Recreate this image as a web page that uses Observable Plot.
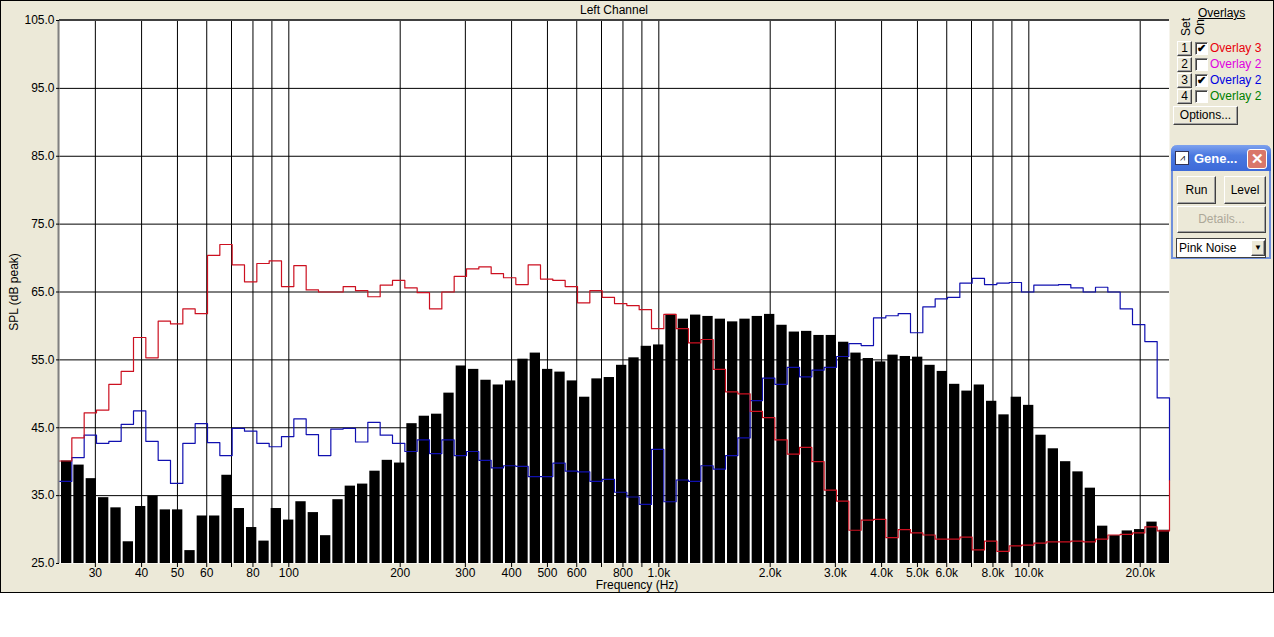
<!DOCTYPE html>
<html>
<head>
<meta charset="utf-8">
<script src="https://cdn.jsdelivr.net/npm/d3@7"></script>
<script src="https://cdn.jsdelivr.net/npm/@observablehq/plot@0.6"></script>
<style>
  body { margin: 0; background: #fff; font-family: "Liberation Sans", Arial, sans-serif; }
  #win { position: absolute; left: 0; top: 0; width: 1274px; height: 593px; background: #ECE9D8; overflow: hidden; }
  #chart { position: absolute; left: 0; top: 0; }
  .abs { position: absolute; white-space: nowrap; }
  .txt { font-size: 12px; color: #000; line-height: 14px; }
  .btn3d { position: absolute; box-sizing: border-box; background: #ECE9D8;
           border-top: 1px solid #fff; border-left: 1px solid #fff;
           border-right: 1px solid #404040; border-bottom: 1px solid #404040;
           box-shadow: inset -1px -1px 0 #a0a0a0; font-size: 12px; text-align: center; }
  .chk { position: absolute; box-sizing: border-box; width: 13px; height: 13px; background: #fff;
         border-top: 1px solid #808080; border-left: 1px solid #808080;
         border-right: 1px solid #fff; border-bottom: 1px solid #fff;
         box-shadow: inset 1px 1px 0 #404040; font-size: 11px; line-height: 11px; text-align: center; font-weight: bold; }
</style>
</head>
<body>
<div id="win">
  <div id="chart"></div>
  <div class="abs txt" style="left:59px;width:1110px;top:3px;text-align:center;">Left Channel</div>
  <div class="abs txt" style="left:0;width:1274px;top:578px;text-align:center;">Frequency (Hz)</div>
  <div id="panel"></div>
  <div class="abs" style="left:0;top:0;width:1272px;height:591px;border:1px solid #000;"></div>
</div>
<script>
// ---- analyser bands: 30 bands per decade from 24 Hz to 24 kHz ----
const fMin = 24;
const fMax = 24000;
const bandsPerDecade = 30;

// ---- measured level (black bars), dB peak, one per band, low -> high ----
const barLevels = [
  40.1, 39.5, 37.5, 34.7, 33.2, 28.2, 33.4, 34.9, 32.9, 32.9,
  26.9, 32.0, 32.0, 38.0, 33.1, 30.3, 28.3, 33.1, 31.4, 34.1,
  32.5, 29.1, 34.4, 36.4, 36.7, 38.6, 40.2, 39.8, 45.6, 46.7,
  47.0, 50.1, 54.1, 53.6, 52.0, 51.3, 51.9, 55.1, 56.0, 53.6,
  53.2, 51.9, 49.5, 52.2, 52.4, 54.2, 55.3, 57.0, 57.2, 61.7,
  61.0, 61.6, 61.4, 61.0, 60.6, 61.0, 61.4, 61.7, 60.1, 59.1,
  59.2, 58.6, 58.6, 57.6, 56.0, 55.2, 54.7, 55.7, 55.5, 55.4,
  54.2, 53.3, 51.4, 50.4, 51.3, 48.9, 46.9, 49.5, 48.3, 43.9,
  41.9, 40.0, 38.5, 36.1, 30.5, 29.1, 29.8, 30.0, 31.1, 29.9
];

// ---- Overlay 3 (red step line) ----
const overlay3Levels = [
  40.1, 43.5, 47.2, 47.6, 51.4, 53.3, 58.3, 55.3, 60.7, 60.3,
  62.5, 61.8, 70.4, 72.0, 69.0, 66.5, 69.2, 69.6, 65.8, 68.9,
  65.3, 65.0, 65.0, 65.8, 65.2, 64.3, 66.0, 66.7, 65.6, 64.9,
  62.5, 65.0, 67.3, 68.4, 68.7, 67.7, 67.1, 66.1, 69.0, 66.9,
  66.7, 65.8, 63.4, 65.2, 64.2, 63.3, 63.0, 62.4, 59.6, 61.7,
  59.6, 57.5, 58.0, 53.6, 50.3, 50.0, 47.4, 46.5, 43.2, 41.1,
  42.1, 40.0, 35.8, 34.2, 29.9, 31.4, 31.5, 28.8, 30.0, 29.5,
  29.2, 28.6, 28.6, 28.9, 27.0, 28.3, 26.8, 27.6, 27.7, 28.0,
  28.2, 28.2, 28.3, 28.2, 28.6, 29.2, 29.3, 29.5, 30.4, 29.8
];
const overlay3End = 37.2;

// ---- Overlay 2 (blue step line) ----
const overlay2Levels = [
  37.1, 40.6, 43.9, 42.7, 43.0, 45.5, 47.5, 43.0, 40.2, 36.8,
  42.7, 45.6, 42.8, 40.9, 44.9, 44.5, 42.7, 42.2, 43.7, 46.3,
  44.0, 40.9, 44.8, 44.9, 42.9, 45.8, 43.9, 42.7, 41.5, 43.2,
  41.2, 43.2, 40.9, 41.5, 40.2, 39.1, 39.4, 39.3, 37.8, 37.8,
  39.8, 38.6, 38.5, 37.1, 37.4, 35.5, 34.8, 33.7, 41.8, 34.1,
  37.3, 37.1, 39.4, 38.9, 40.9, 43.5, 49.0, 52.3, 51.4, 53.9,
  52.5, 53.5, 53.9, 55.5, 57.4, 57.1, 61.2, 61.5, 61.8, 59.0,
  62.8, 64.0, 64.2, 66.3, 67.0, 66.1, 66.3, 66.4, 65.0, 66.0,
  66.0, 66.1, 65.6, 65.0, 65.7, 65.0, 62.5, 60.2, 57.7, 49.4
];
const overlay2End = 37.2;

// ---- axes ----
const yTicks = [25, 35, 45, 55, 65, 75, 85, 95, 105];
const yGridLines = [35, 45, 55, 65, 75, 85, 95];
const xGridFreqs = [30, 40, 50, 60, 70, 80, 90, 100, 200, 300, 400, 500, 600, 700, 800, 900,
                    1000, 2000, 3000, 4000, 5000, 6000, 7000, 8000, 9000, 10000, 20000];
const xLabelFreqs = [30, 40, 50, 60, 80, 100, 200, 300, 400, 500, 600, 800,
                     1000, 2000, 3000, 4000, 5000, 6000, 8000, 10000, 20000];
const xLabelTexts = ["30", "40", "50", "60", "80", "100", "200", "300", "400", "500", "600", "800",
                     "1.0k", "2.0k", "3.0k", "4.0k", "5.0k", "6.0k", "8.0k", "10.0k", "20.0k"];

// ---- overlay legend ----
const overlaySets = ["1", "2", "3", "4"];
const overlayNames = ["Overlay 3", "Overlay 2", "Overlay 2", "Overlay 2"];
const overlayOn = [true, false, true, false];
const overlayColors = ["#e8000b", "#e000e0", "#0000e0", "#008000"];

const redLine = "#cc1020";
const blueLine = "#1010b0";

// band edges from analyser setting
const edge = i => fMin * Math.pow(10, i / bandsPerDecade);
const bars = barLevels.map((v, i) => ({f1: edge(i), f2: edge(i + 1), v}));
function stepPoints(levels, endLevel) {
  const pts = levels.map((v, i) => ({x: edge(i), y: v}));
  const n = levels.length;
  pts.push({x: edge(n), y: levels[n - 1]});
  pts.push({x: edge(n), y: endLevel});
  return pts;
}
const xLabels = xLabelFreqs.map((f, i) => ({f, t: xLabelTexts[i]}));

const chart = Plot.plot({
  width: 1274,
  height: 593,
  marginLeft: 59,
  marginRight: 105,
  marginTop: 20,
  marginBottom: 30,
  style: {background: "transparent", fontFamily: "Liberation Sans, Arial, sans-serif", fontSize: "12px", color: "#000"},
  x: {type: "log", domain: [fMin, fMax]},
  y: {domain: [25, 105]},
  marks: [
    Plot.frame({fill: "#fff", stroke: null}),
    Plot.gridX(xGridFreqs, {stroke: "#000", strokeOpacity: 1}),
    Plot.gridY(yGridLines, {stroke: "#000", strokeOpacity: 1}),
    Plot.rect(bars, {x1: "f1", x2: "f2", y1: () => 25, y2: "v", fill: "#000", insetLeft: 2}),
    Plot.line(stepPoints(overlay2Levels, overlay2End), {x: "x", y: "y", curve: "step-after", stroke: blueLine, strokeWidth: 1.2}),
    Plot.line(stepPoints(overlay3Levels, overlay3End), {x: "x", y: "y", curve: "step-after", stroke: redLine, strokeWidth: 1.2}),
    Plot.ruleX([fMin], {stroke: "#808080", strokeWidth: 2, dx: -1}),
    Plot.ruleY([105], {stroke: "#404040", strokeWidth: 2, dy: -0.5}),
    Plot.axisX({ticks: xGridFreqs, tickFormat: () => "", tickSize: 4, label: null}),
    Plot.text(xLabels, {x: "f", text: "t", frameAnchor: "bottom", lineAnchor: "top", dy: 5, fontSize: 12, fill: "#000"}),
    Plot.axisY({ticks: yTicks, tickFormat: d3.format(".1f"), tickSize: 3, tickPadding: 2,
                label: "SPL (dB peak)", labelAnchor: "center", labelOffset: 50, labelArrow: "none"})
  ]
});
document.getElementById("chart").appendChild(chart);

// ---- right-hand panel (overlay legend and generator box) ----
const panel = document.getElementById("panel");
let html = "";
html += `<div class="abs txt" style="left:1198px;top:6px;text-decoration:underline;">Overlays</div>`;
html += `<div class="abs txt" style="left:1179px;top:20px;transform-origin:0 0;transform:translate(0,16px) rotate(-90deg);">Set</div>`;
html += `<div class="abs txt" style="left:1193px;top:21px;transform-origin:0 0;transform:translate(0,14px) rotate(-90deg);">On</div>`;
overlaySets.forEach((s, i) => {
  const top = 41 + i * 16;
  html += `<div class="btn3d" style="left:1177px;top:${top}px;width:15px;height:15px;line-height:13px;">${s}</div>`;
  html += `<div class="chk" style="left:1195px;top:${top + 1}px;">${overlayOn[i] ? "✔" : ""}</div>`;
  html += `<div class="abs txt" style="left:1210px;top:${top}px;color:${overlayColors[i]};">${overlayNames[i]}</div>`;
});
html += `<div class="btn3d" style="left:1173px;top:106px;width:65px;height:19px;line-height:17px;">Options...</div>`;
// generator mini window
html += `<div class="abs" style="left:1171px;top:145px;width:100px;height:114px;box-sizing:border-box;background:#ECE9D8;border:2px solid #6f8fdc;border-top:none;border-radius:6px 6px 0 0;"></div>`;
html += `<div class="abs" style="left:1171px;top:145px;width:100px;height:26px;border-radius:6px 6px 0 0;background:linear-gradient(#7ea2ee,#4a78e0 40%,#3d6ad8);"></div>`;
html += `<div class="abs" style="left:1175px;top:151px;width:14px;height:14px;background:#fff;border:1px solid #335;box-sizing:border-box;font-size:9px;line-height:12px;color:#000;text-align:center;">⩘</div>`;
html += `<div class="abs" style="left:1194px;top:151px;font-size:13px;font-weight:bold;color:#fff;line-height:16px;">Gene...</div>`;
html += `<div class="abs" style="left:1247px;top:149px;width:20px;height:20px;box-sizing:border-box;border:1px solid #fff;border-radius:3px;background:#d9776a;color:#fff;font-size:15px;line-height:18px;text-align:center;font-weight:bold;">✕</div>`;
html += `<div class="btn3d" style="left:1177px;top:176px;width:39px;height:28px;line-height:26px;">Run</div>`;
html += `<div class="btn3d" style="left:1224px;top:176px;width:42px;height:28px;line-height:26px;">Level</div>`;
html += `<div class="btn3d" style="left:1177px;top:206px;width:89px;height:27px;line-height:25px;color:#aca899;">Details...</div>`;
html += `<div class="abs" style="left:1176px;top:238px;width:90px;height:20px;box-sizing:border-box;background:#fff;border:1px solid #404040;font-size:12px;line-height:18px;padding-left:2px;">Pink Noise</div>`;
html += `<div class="btn3d" style="left:1251px;top:240px;width:14px;height:16px;font-size:8px;line-height:14px;">▼</div>`;
panel.innerHTML = html;
</script>
</body>
</html>
